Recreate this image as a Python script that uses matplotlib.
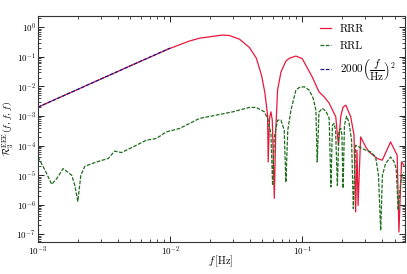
import numpy as np
import matplotlib
matplotlib.use("Agg")
import matplotlib.pyplot as plt
from matplotlib.ticker import FixedLocator, NullFormatter, LogLocator

plt.rcParams['mathtext.fontset'] = 'cm'
plt.rcParams['font.family'] = ['cmr10', 'DejaVu Serif']
plt.rcParams['axes.formatter.use_mathtext'] = True

# RRR (red solid)
f_rrr = [0.001, 0.003, 0.006, 0.01, 0.014, 0.0167, 0.0199, 0.0249, 0.0281, 0.0335,
         0.0398, 0.0449, 0.0492, 0.0521, 0.0547, 0.0553, 0.0566, 0.058, 0.0594, 0.0615,
         0.0631, 0.0651, 0.0691, 0.0753, 0.0798, 0.0896, 0.1, 0.119, 0.134, 0.1465,
         0.160, 0.1796, 0.188, 0.196, 0.204, 0.214, 0.233, 0.247, 0.254, 0.260,
         0.265, 0.277, 0.303, 0.321, 0.370, 0.404, 0.467, 0.524, 0.540, 0.565, 0.589]
v_rrr = [0.002, 0.018, 0.072, 0.195, 0.345, 0.43, 0.48, 0.55, 0.53, 0.40,
         0.21, 0.092, 0.0243, 0.00646, 0.00107, 2.8e-5, 0.00085, 0.00139, 0.000727, 1.65e-6,
         0.000333, 0.00755, 0.031, 0.0726, 0.0897, 0.107, 0.088, 0.0213, 0.0066, 0.00448,
         0.00274, 0.00094, 0.000103, 0.00099, 0.0020, 0.00234, 0.00094, 0.000225, 5.7e-7, 7e-5,
         9.5e-7, 0.000197, 9e-5, 6.1e-5, 3.66e-5, 3.2e-5, 0.000133, 4.7e-5, 1.19e-7, 2.8e-5, 2.17e-5]

# RRL (green dashed)
f_rrl = [0.001, 0.00113, 0.00127, 0.00139, 0.00155, 0.0018, 0.0019, 0.0020, 0.00211, 0.00226,
         0.00277, 0.0034, 0.0038, 0.00428, 0.00524, 0.0066, 0.00787, 0.00936, 0.0118, 0.0167,
         0.0298, 0.0398, 0.0448, 0.0517, 0.0547, 0.058, 0.0597, 0.0615, 0.0651, 0.0691,
         0.0731, 0.0753, 0.0778, 0.0822, 0.0896, 0.0949, 0.1035, 0.113, 0.121, 0.127,
         0.130, 0.134, 0.142, 0.151, 0.160, 0.165, 0.1695, 0.1745, 0.179, 0.1847,
         0.190, 0.196, 0.2, 0.204, 0.209, 0.217, 0.226, 0.2365, 0.244, 0.254,
         0.269, 0.303, 0.330, 0.360, 0.378, 0.393, 0.405, 0.428, 0.467, 0.494,
         0.515, 0.533, 0.556, 0.571, 0.589]
v_rrl = [4.1e-5, 1.47e-5, 4.9e-6, 7.8e-6, 1.67e-5, 9.9e-6, 4.5e-6, 1.3e-6, 9.9e-6, 2.0e-5,
         2.8e-5, 3.66e-5, 6.5e-5, 5.8e-5, 9e-5, 0.000152, 0.000174, 0.000291, 0.00038, 0.00083,
         0.00139, 0.00196, 0.00196, 0.00139, 0.00083, 0.000257, 4.5e-6, 0.000197, 0.000727, 0.000727,
         0.000333, 5.7e-6, 0.000333, 0.00158, 0.00755, 0.0092, 0.0098, 0.00755, 0.00404, 0.00158,
         2.8e-5, 0.00136, 0.00181, 0.00147, 0.00085, 4.0e-6, 0.00049, 0.00056, 0.000333, 4.5e-6,
         0.000333, 0.00038, 0.000225, 3.6e-6, 0.00049, 0.00099, 0.00062, 0.000152, 7.4e-7, 0.000103,
         9e-5, 7e-5, 6.1e-5, 4.1e-5, 9.9e-6, 1.35e-7, 9.9e-6, 2.47e-5, 4.1e-5, 2.95e-5,
         1.7e-5, 6.5e-7, 5.3e-6, 9.9e-6, 1.26e-5]

# 2000 (f/Hz)^2 reference (blue dashed)
f_ref = [0.001, 0.002, 0.004, 0.006, 0.008, 0.01]
v_ref = [0.002, 0.008, 0.032, 0.072, 0.128, 0.2]

x_major = [1e-3, 1e-2, 1e-1]
y_major = [1e-7, 1e-6, 1e-5, 1e-4, 1e-3, 1e-2, 1e-1, 1e0]

fig = plt.figure(figsize=(4.07, 2.74), dpi=100)
ax = fig.add_axes([0.0934, 0.117, 0.9016, 0.826])

ax.plot(f_rrr, v_rrr, color='#e8183c', lw=0.9, label='RRR')
ax.plot(f_rrl, v_rrl, color='#1e6e1e', lw=0.9, ls=(0, (3, 1.2)), label='RRL')
ax.plot(f_ref, v_ref, color='#1a1a8c', lw=0.9, ls=(0, (3, 1.2)),
        label=r'$2000\left(\dfrac{f}{\mathrm{Hz}}\right)^2$')

ax.set_xscale('log')
ax.set_yscale('log')
ax.set_xlim(1e-3, 0.6)
ax.set_ylim(5.5e-8, 2.5)

ax.xaxis.set_major_locator(FixedLocator(x_major))
ax.yaxis.set_major_locator(FixedLocator(y_major))
ax.xaxis.set_minor_locator(LogLocator(base=10, subs=np.arange(2, 10), numticks=20))
ax.yaxis.set_minor_locator(LogLocator(base=10, subs=np.arange(2, 10), numticks=20))
ax.xaxis.set_minor_formatter(NullFormatter())
ax.yaxis.set_minor_formatter(NullFormatter())

ax.tick_params(which='both', direction='in', top=True, right=True, labelsize=6.5)
ax.tick_params(axis='y', pad=1.5)
ax.tick_params(axis='x', pad=2)
ax.tick_params(which='major', length=4, width=0.6)
ax.tick_params(which='minor', length=2, width=0.5)
for s in ax.spines.values():
    s.set_linewidth(0.8)
    s.set_color('#333333')

fig.text(0.542, 0.045, r'$f\,[\mathrm{Hz}]$', fontsize=7.5, ha='center', va='center')
fig.text(0.021, 0.53, r'$\mathcal{R}_3^{\rm EEE}(f,f,f)$', fontsize=7,
         ha='center', va='center', rotation=90)

ax.legend(loc='upper right', frameon=False, fontsize=8, handlelength=1.0,
          handletextpad=0.8, labelspacing=0.6, borderaxespad=0.4)

fig.savefig('out.png', dpi=100)
